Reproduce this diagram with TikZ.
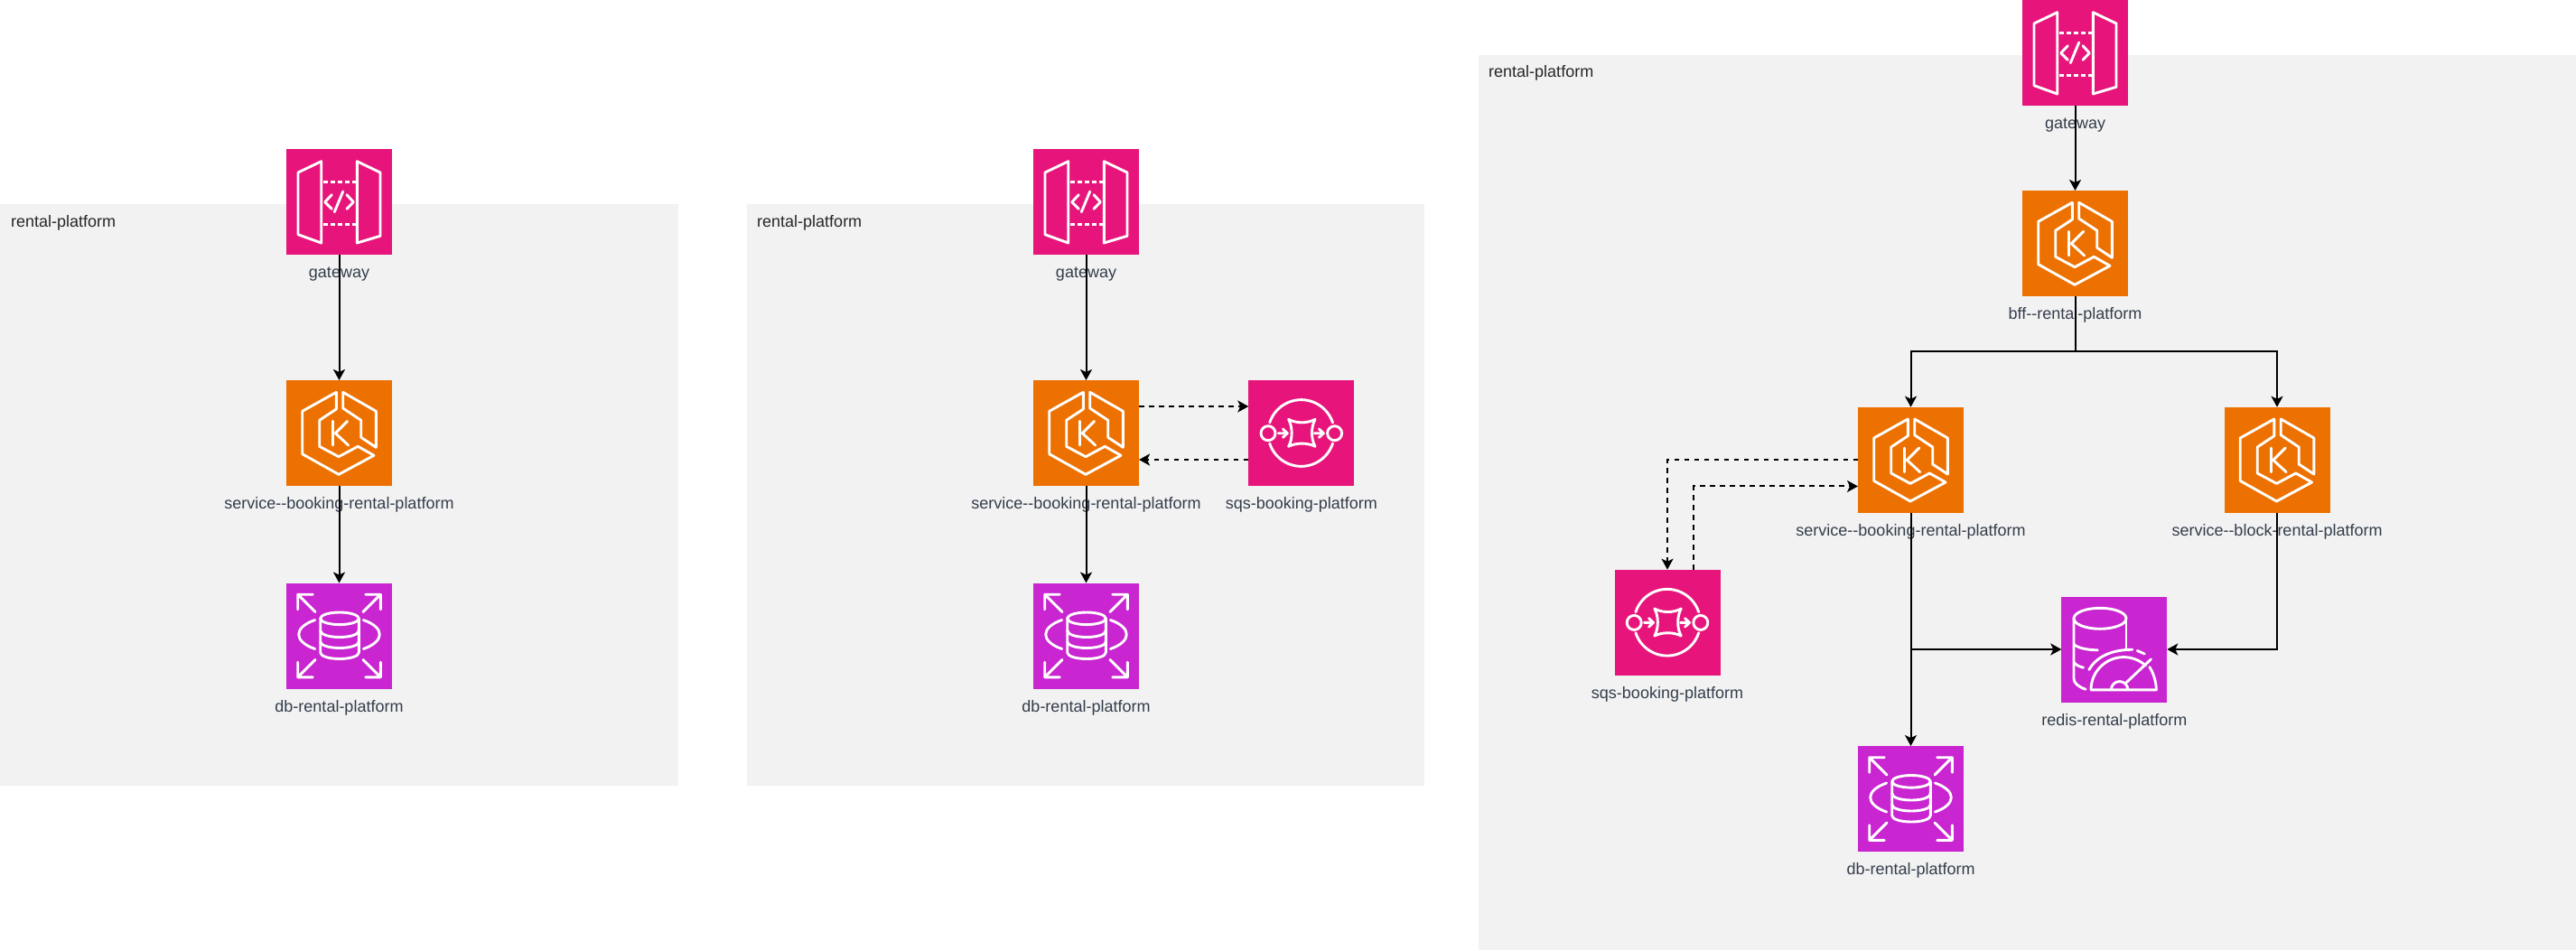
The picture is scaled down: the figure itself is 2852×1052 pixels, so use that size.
\documentclass[tikz,border=0pt]{standalone}
\usepackage{fontspec}
\setmainfont{Liberation Sans}
\usetikzlibrary{arrows.meta,calc}
\definecolor{panelbg}{HTML}{F2F2F2}
\definecolor{txt}{HTML}{333D4B}
\definecolor{pinkc}{HTML}{E7157B}
\definecolor{orangec}{HTML}{ED7100}
\definecolor{purplec}{HTML}{C925D1}
\tikzset{
  panelbox/.style={fill=panelbg,draw=none},
  paneltitle/.style={anchor=west,inner sep=0pt,font=\fontsize{18}{20}\selectfont,text=black!85},
  iconbox/.style={minimum size=117pt,inner sep=0pt,outer sep=0pt,draw=none,fill=#1},
  lbl/.style={inner sep=0pt,outer sep=0pt,text height=13pt,text depth=4pt,text=txt,font=\fontsize{18}{20}\selectfont},
  glyph/.style={draw=white,line width=2.9pt,line join=round,line cap=round,fill=none},
  flow/.style={draw=black,line width=2pt,-{Stealth[length=12pt,width=13pt,inset=3pt]}},
  flowd/.style={flow,dash pattern=on 5.5pt off 5.5pt},
  gatewayicon/.pic={
    \draw[glyph] (13,26)--(38.7,13.7)--(38.7,104)--(13,94.7)--cycle;
    \draw[glyph] (78.3,13.7)--(104,26)--(104,96.3)--(78.3,104)--cycle;
    \draw[glyph,line cap=butt,dash pattern=on 5pt off 3pt] (41,36.3)--(78,36.3);
    \draw[glyph,line cap=butt,dash pattern=on 5pt off 3pt] (41,83.3)--(78,83.3);
    \draw[glyph] (50.3,50.7)--(42.7,58.7)--(50.3,66.3);
    \draw[glyph] (67,50.7)--(74.3,58.7)--(67,66.3);
    \draw[glyph] (62.7,47)--(53.3,69.7);
  },
  k8sicon/.pic={
    \draw[glyph] (55.3,13.3)--(55.3,32)--(36.7,44.3)--(36.7,73.3)--(58,84.7)--(79.3,73.3)--(97,83.3)--(58,104.3)--(17.7,81.7)--(17.7,34.3)--cycle;
    \draw[glyph] (62.7,13.3)--(99.3,34.3)--(99.3,74.3)--(82.7,63.3)--(82.7,44.3)--(62.7,31)--cycle;
    \draw[glyph] (51.7,45.3)--(51.7,72);
    \draw[glyph] (67.7,45.3)--(54.3,58.7)--(68.7,72);
  },
  dbicon/.pic={
    \draw[glyph] (29.3,12.7)--(12.7,12.7)--(12.7,29.3) (12.7,12.7)--(32,32);
    \draw[glyph] (87.7,12.7)--(104.3,12.7)--(104.3,29.3) (104.3,12.7)--(85,32);
    \draw[glyph] (29.3,104.3)--(12.7,104.3)--(12.7,87.7) (12.7,104.3)--(32,85);
    \draw[glyph] (87.7,104.3)--(104.3,104.3)--(104.3,87.7) (104.3,104.3)--(85,85);
    \draw[glyph] (31.7,41) .. controls (20,45) and (13.7,51) .. (13.7,57) .. controls (13.7,63) and (20,69) .. (31.7,73);
    \draw[glyph] (85.3,41) .. controls (97,45) and (103.3,51) .. (103.3,57) .. controls (103.3,63) and (97,69) .. (85.3,73);
    \draw[glyph] (59,39.3) ellipse [x radius=21.3,y radius=6.8];
    \draw[glyph] (37.7,39.3)--(37.7,77) .. controls (37.7,81) and (47,84) .. (59,84) .. controls (71,84) and (80.3,81) .. (80.3,77)--(80.3,39.3);
    \draw[glyph] (37.7,52.5) .. controls (37.7,57) and (47,60) .. (59,60) .. controls (71,60) and (80.3,57) .. (80.3,52.5);
    \draw[glyph] (37.7,65) .. controls (37.7,69) and (47,72) .. (59,72) .. controls (71,72) and (80.3,69) .. (80.3,65);
  },
  sqsicon/.pic={
    \draw[glyph] (23.4,47) arc[start angle=198,end angle=342,radius=36.7];
    \draw[glyph] (23.4,70) arc[start angle=162,end angle=18,radius=36.7];
    \draw[glyph] (21.7,58.7) circle[radius=8];
    \draw[glyph] (95.3,58.7) circle[radius=8];
    \draw[glyph] (33,58.7)--(43,58.7) (38,54)--(43,58.7)--(38,63.4);
    \draw[glyph] (73,58.7)--(83,58.7) (78,54)--(83,58.7)--(78,63.4);
    \draw[glyph] (44.3,43.3) .. controls (53,48) and (65,48) .. (73.7,43.3) .. controls (69,52) and (69,65) .. (73.7,73.3) .. controls (65,69) and (53,69) .. (44.3,73.3) .. controls (49,65) and (49,52) .. (44.3,43.3)--cycle;
  },
  redisicon/.pic={
    \draw[glyph] (42.7,24.3) ellipse [x radius=29,y radius=11.5];
    \draw[glyph] (13.7,24.3)--(13.7,91) .. controls (13.7,96) and (19,100) .. (26.7,102.7);
    \draw[glyph] (71.7,24.3)--(71.7,57.7);
    \draw[glyph] (13.7,52.7) .. controls (16,56) and (27,59.3) .. (40,59.3);
    \draw[glyph] (13.7,72.7) .. controls (15,75) and (19,77.5) .. (24.3,78.7);
    \draw[glyph] (30.5,81) .. controls (38,68) and (53,59) .. (78.5,58.7);
    \draw[glyph] (84,60) -- (92,63.5);
    \draw[glyph] (32.7,103.3) arc[start angle=180,end angle=312,radius=36.2];
    \draw[glyph] (97.5,78) .. controls (102,85) and (105,95) .. (105,103.3)--(32.7,103.3);
    \draw[glyph] (55,103.3) arc[start angle=180,end angle=360,radius=9.3];
    \draw[glyph] (71,96)--(99.3,69.3);
  },
}
% name, left x, top y, colour, pic, label
\newcommand{\iconat}[6]{%
  \node[iconbox=#4,label={[lbl,label distance=12.5pt,name=#1-l]below:#6}] (#1) at (#2+58.5,#3+58.5) {};
  \pic at (#1.north west) {#5};
}
\begin{document}
\begin{tikzpicture}[x=1pt,y=-1pt]
\useasboundingbox (0,0) rectangle (2852,1052);
\fill[white] (0,0) rectangle (2852,1052);
\fill[panelbox] (0,226) rectangle (751,870);
\fill[panelbox] (827,226) rectangle (1577,870);
\fill[panelbox] (1637,61) rectangle (2852,1052);
\node[paneltitle] (t1) at (12,247) {rental-platform};
\node[paneltitle] (t2) at (838,247) {rental-platform};
\node[paneltitle] (t3) at (1648,81) {rental-platform};

\iconat{gw1}{317}{165}{pinkc}{gatewayicon}{gateway}
\iconat{k1}{317}{421}{orangec}{k8sicon}{service-{}-booking-rental-platform}
\iconat{db1}{317}{645.5}{purplec}{dbicon}{db-rental-platform}

\iconat{gw2}{1144}{165}{pinkc}{gatewayicon}{gateway}
\iconat{k2}{1144}{421}{orangec}{k8sicon}{service-{}-booking-rental-platform}
\iconat{db2}{1144}{645.5}{purplec}{dbicon}{db-rental-platform}
\iconat{sq2}{1382.3}{421}{pinkc}{sqsicon}{sqs-booking-platform}

\iconat{gw3}{2239}{0}{pinkc}{gatewayicon}{gateway}
\iconat{bf3}{2239}{211}{orangec}{k8sicon}{bff-{}-rental-platform}
\iconat{bk3}{2057}{450.7}{orangec}{k8sicon}{service-{}-booking-rental-platform}
\iconat{bl3}{2462.5}{450.7}{orangec}{k8sicon}{service-{}-block-rental-platform}
\iconat{sq3}{1787.5}{630.7}{pinkc}{sqsicon}{sqs-booking-platform}
\iconat{rd3}{2282.3}{660.5}{purplec}{redisicon}{redis-rental-platform}
\iconat{db3}{2057}{826}{purplec}{dbicon}{db-rental-platform}

\draw[flow] (gw1.south)--(k1.north);
\draw[flow] (k1.south)--(db1.north);

\draw[flow] (gw2.south)--(k2.north);
\draw[flow] (k2.south)--(db2.north);
\draw[flowd] ([yshift=29.5pt]k2.east)--([yshift=29.5pt]sq2.west);
\draw[flowd] ([yshift=-29.5pt]sq2.west)--([yshift=-29.5pt]k2.east);

\draw[flow] (gw3.south)--(bf3.north);
\coordinate (split) at (bf3.south |- 0,389);
\draw[flow] (bf3.south)--(split)-|(bk3.north);
\draw[flow] (split)-|(bl3.north);
\draw[flow] (bk3.south)--(db3.north);
\draw[flow] (bk3.south)|-(rd3.west);
\draw[flow] (bl3.south)|-(rd3.east);
\draw[flowd] (bk3.west)-|(sq3.north);
\draw[flowd] ([xshift=29.25pt]sq3.north)|-([yshift=-29.25pt]bk3.west);
\end{tikzpicture}
\end{document}
